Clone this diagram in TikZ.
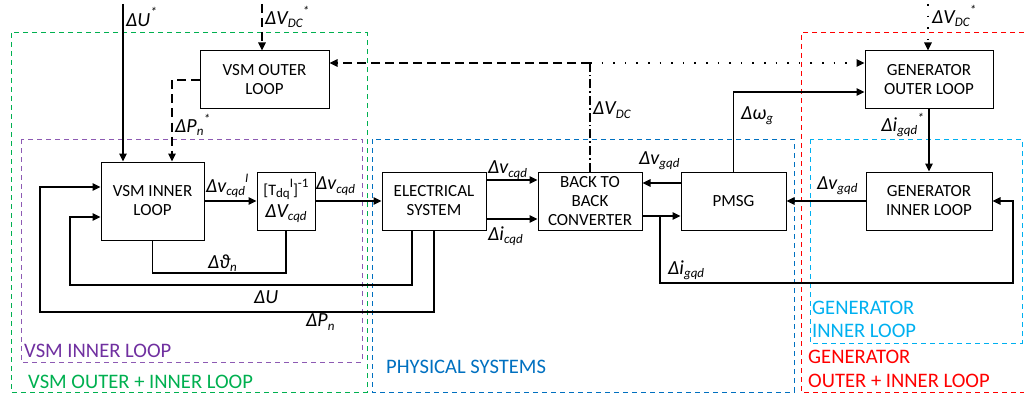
\documentclass[tikz,border=0pt]{standalone}
\usepackage{fontspec}
\setmainfont{Carlito}
\usetikzlibrary{arrows.meta}
\definecolor{cgreen}{HTML}{00B050}
\definecolor{cpurple}{HTML}{7030A0}
\definecolor{cblue}{HTML}{0070C0}
\definecolor{clblue}{HTML}{00B0F0}
\definecolor{cred}{HTML}{FF0000}
\newcommand\sbx[1]{\raisebox{-0.35ex}{\fontsize{13}{13}\selectfont #1}}
\newcommand\spx[1]{\raisebox{0.95ex}{\fontsize{13}{13}\selectfont #1}}
\begin{document}
\begin{tikzpicture}[x=1pt,y=-1pt,
  every node/.style={inner sep=0pt},
  blk/.style={draw, line width=1pt, align=center, font=\fontsize{17}{19}\selectfont},
  lab/.style={font=\fontsize{20}{22}\selectfont\itshape, anchor=west},
  reg/.style={font=\fontsize{20.6}{23.5}\selectfont, anchor=west, align=left},
  conn/.style={line width=1.1pt},
  arr/.style={conn, -{Triangle[length=8pt,width=7.5pt]}},
  bdash/.style={dash pattern=on 9pt off 5pt},
  bdot/.style={dash pattern=on 1.6pt off 10pt},
  bdd/.style={dash pattern=on 9pt off 3pt on 1.6pt off 3pt},
  rdash/.style={line width=1pt, dash pattern=on 5pt off 4pt}]
\useasboundingbox (0,0) rectangle (1024,401);

% region boxes
\draw[cgreen, rdash] (11,33) rectangle (367,392);
\draw[cpurple!80, rdash] (21,139) rectangle (362,362);
\draw[cblue, rdash] (372,139) rectangle (794,392);
\draw[cred, rdash] (1024,33) -- (801,33) -- (801,392) -- (1024,392);
\draw[clblue, rdash] (810,139) rectangle (1022,343);

\node[reg, text=cpurple] (rl1) at (24,351) {VSM INNER LOOP};
\node[reg, text=cgreen] (rl2) at (28,382) {VSM OUTER + INNER LOOP};
\node[reg, text=cblue] (rl3) at (386,367) {PHYSICAL SYSTEMS};
\node[reg, text=clblue] (rl4) at (812,319.5) {GENERATOR\\INNER LOOP};
\node[reg, text=cred] (rl5) at (808,369) {GENERATOR\\OUTER + INNER LOOP};

% blocks
\node[blk, minimum width=129pt, minimum height=58pt] (vo) at (264.5,80) {VSM OUTER\\LOOP};
\node[blk, minimum width=103pt, minimum height=78pt] (vi) at (152.5,201) {VSM INNER\\LOOP};
\node[blk, minimum width=58pt, minimum height=58pt] (tb) at (286,201) {{\fontsize{16}{18}\selectfont [T\sbx{dq}\spx{I}]\spx{-1}}\\[3pt]{\fontsize{20}{20}\selectfont\itshape ΔV\sbx{cqd}}};
\node[blk, minimum width=104pt, minimum height=58pt] (es) at (434,201) {ELECTRICAL\\SYSTEM};
\node[blk, minimum width=104pt, minimum height=58pt] (bb) at (590,201) {BACK TO\\BACK\\CONVERTER};
\node[blk, minimum width=105pt, minimum height=58pt] (pm) at (733.5,201) {PMSG};
\node[blk, minimum width=128pt, minimum height=58pt] (go) at (929,80) {GENERATOR\\OUTER LOOP};
\node[blk, minimum width=126pt, minimum height=58pt] (gi) at (929,201) {GENERATOR\\INNER LOOP};

% helper coordinates
\coordinate (uin) at (123,4);
\coordinate (dvin) at (262,4);
\coordinate (pnx) at (172,0);
\coordinate (jd) at (590,63);
\coordinate (gvin) at (928,4);
\coordinate (wg) at (0,92);
\coordinate (yv) at (0,183);
\coordinate (yi) at (0,216);
\coordinate (yc1) at (0,180);
\coordinate (yc2) at (0,219);
\coordinate (igb) at (660,216);
\coordinate (igr) at (1013,283);
\coordinate (th) at (0,273);
\coordinate (ux) at (412,0);
\coordinate (uL) at (70,285);
\coordinate (uy) at (0,217);
\coordinate (pL) at (40,312);
\coordinate (py) at (0,187);

% connectors
\draw[arr] (uin) -- (uin |- vi.north);
\draw[arr, bdash] (dvin) -- (dvin |- vo.north);
\draw[arr, bdash] (vo.west) -| (pnx |- vi.north);
\draw[conn, bdd] (bb.north) -- (jd);
\draw[arr, bdash] (jd) -- (vo.east |- jd);
\draw[arr, bdot] (jd) -- (go.west |- jd);
\draw[arr, bdot] (gvin) -- (gvin |- go.north);
\draw[arr] (go.south) -- (gi.north);
\draw[arr] (pm.north) |- (go.west |- wg);
\draw[arr] (gi.west) -- (pm.east);
\draw[arr] (pm.west |- yv) -- (bb.east |- yv);
\draw[arr] (bb.east |- yi) -- (pm.west |- yi);
\draw[arr] (igb) |- (igr) |- (gi.east);
\draw[arr] (es.east |- yc1) -- (bb.west |- yc1);
\draw[arr] (es.east |- yc2) -- (bb.west |- yc2);
\draw[arr] (vi.east) -- (tb.west);
\draw[arr] (tb.east) -- (tb.east -| es.west);
\draw[conn] (vi.south) -- (vi.south |- th) -| (tb.south);
\draw[arr] (es.south -| ux) |- (uL) |- (vi.west |- uy);
\draw[arr] (es.south) |- (pL) |- (vi.west |- py);

% signal labels
\node[lab] (l1) at (126,17) {ΔU\spx{*}};
\node[lab] (l2) at (265,17) {ΔV\sbx{DC}\spx{*}};
\node[lab] (l3) at (175,125) {ΔP\sbx{n}\spx{*}};
\node[lab] (l4) at (593,110) {ΔV\sbx{DC}};
\node[lab] (l5) at (932,16) {ΔV\sbx{DC}\spx{*}};
\node[lab] (l6) at (741,116) {Δω\sbx{g}};
\node[lab, anchor=east] (l7) at (924,125) {Δi\sbx{gqd}\spx{*}};
\node[lab] (l8) at (817,186) {Δv\sbx{gqd}};
\node[lab] (l9) at (639,161) {Δv\sbx{gqd}};
\node[lab] (l10) at (488,170) {Δv\sbx{cqd}};
\node[lab] (l11) at (488,236) {Δi\sbx{cqd}};
\node[lab] (l12) at (668,270) {Δi\sbx{gqd}};
\node[lab] (l13) at (206,186) {Δv\sbx{cqd}\spx{I}};
\node[lab] (l14) at (316,186) {Δv\sbx{cqd}};
\node[lab] (l15) at (208,263) {Δϑ\sbx{n}};
\node[lab] (l16) at (254,297) {ΔU};
\node[lab] (l17) at (306,322) {ΔP\sbx{n}};
\end{tikzpicture}
\end{document}
